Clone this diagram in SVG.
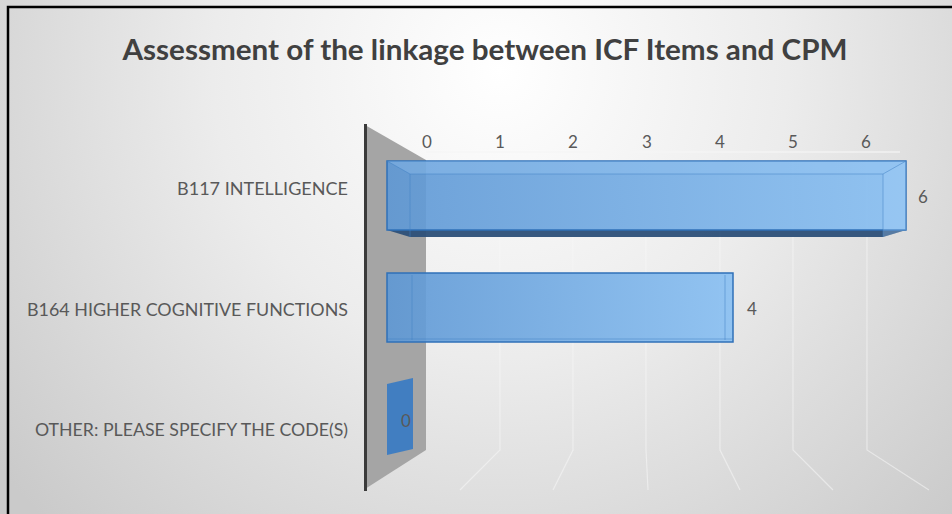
<svg xmlns="http://www.w3.org/2000/svg" width="952" height="514" viewBox="0 0 952 514">
<defs>
<radialGradient id="bg" cx="500" cy="70" r="640" gradientUnits="userSpaceOnUse">
<stop offset="0" stop-color="#ffffff"/>
<stop offset="0.45" stop-color="#ececec"/>
<stop offset="1" stop-color="#cacaca"/>
</radialGradient>
<linearGradient id="barg" x1="0" y1="0" x2="1" y2="0">
<stop offset="0" stop-color="#5e98d5"/>
<stop offset="1" stop-color="#88bff2"/>
</linearGradient>
<style>
.tick{font-family:Lato,"Liberation Sans",sans-serif;font-size:17px;fill:#595959;text-anchor:middle}
.cat{font-family:Lato,"Liberation Sans",sans-serif;font-size:18px;fill:#595959;text-anchor:end}
.val{font-family:Lato,"Liberation Sans",sans-serif;font-size:17px;fill:#595959}
.grid{stroke:#f8f8f8;stroke-width:1.2;fill:none;opacity:0.55}
.face{fill:url(#barg);fill-opacity:0.9;stroke:#2f70b8;stroke-width:1.5}
.inner{stroke:#3f7fc4;stroke-width:1;fill:none;opacity:0.5}
</style>
</defs>
<rect x="0" y="0" width="952" height="514" fill="url(#bg)"/>
<rect x="8" y="7" width="960" height="520" fill="none" stroke="#000" stroke-width="2.5"/>
<text id="title" x="485" y="60" font-family="Lato,'Liberation Sans',sans-serif" font-size="29" font-weight="bold" fill="#404040" text-anchor="middle" textLength="725" lengthAdjust="spacingAndGlyphs">Assessment of the linkage between ICF Items and CPM</text>

<g id="wall">
<polygon points="365,125 426,160 426,450 365,489" fill="#a5a5a5"/>
<line x1="365.5" y1="124" x2="365.5" y2="491" stroke="#3a3a3a" stroke-width="3"/>
</g>

<g id="connectors">
<line x1="426" y1="152" x2="900" y2="152" stroke="#f6f6f6" stroke-width="2" opacity="0.6"/>
<polyline class="grid" points="500,160 500,450 460,490"/>
<polyline class="grid" points="573,160 573,450 553,490"/>
<polyline class="grid" points="646,160 646,450 648,490"/>
<polyline class="grid" points="720,160 720,450 740,490"/>
<polyline class="grid" points="793,160 793,450 833,490"/>
<polyline class="grid" points="867,160 867,450 929,490"/>
</g>

<g id="axis">
<text class="tick" x="427" y="148">0</text>
<text class="tick" x="500" y="148">1</text>
<text class="tick" x="573" y="148">2</text>
<text class="tick" x="647" y="148">3</text>
<text class="tick" x="720" y="148">4</text>
<text class="tick" x="793" y="148">5</text>
<text class="tick" x="866" y="148">6</text>
</g>

<g id="bar-b117">
<polygon points="387,230 906,230 883,237 410,237" fill="#2c4f78" opacity="0.95"/>
<rect class="face" x="387" y="161" width="519" height="69"/>
<polygon points="387,161 906,161 883,174 410,174" fill="#9ccaf5" opacity="0.3"/>
<polygon points="883,174 906,161 906,230 883,237" fill="#a6d2fa" opacity="0.3"/>
<polyline class="inner" points="387,161 410,174 883,174 906,161"/>
<line class="inner" x1="410" y1="174" x2="410" y2="237"/>
<line class="inner" x1="883" y1="174" x2="883" y2="237"/>
<text class="cat" x="348" y="195" textLength="171" lengthAdjust="spacingAndGlyphs">B117 INTELLIGENCE</text>
<text class="val" x="918" y="203">6</text>
</g>

<g id="bar-b164">
<rect class="face" x="387" y="273" width="346" height="69"/>
<line class="inner" x1="412" y1="275" x2="412" y2="340"/>
<line class="inner" x1="725" y1="275" x2="725" y2="340"/>
<line class="inner" x1="388" y1="339" x2="732" y2="339"/>
<text class="cat" x="348" y="316" textLength="321" lengthAdjust="spacingAndGlyphs">B164 HIGHER COGNITIVE FUNCTIONS</text>
<text class="val" x="747" y="315">4</text>
</g>

<g id="bar-other">
<polygon points="387,384 413,378 413,449 387,455" fill="#3b7bc2" opacity="0.95"/>
<text class="cat" x="348" y="436" textLength="313" lengthAdjust="spacingAndGlyphs">OTHER: PLEASE SPECIFY THE CODE(S)</text>
<text class="val" x="401" y="427" fill="#3a4a5a">0</text>
</g>
</svg>
